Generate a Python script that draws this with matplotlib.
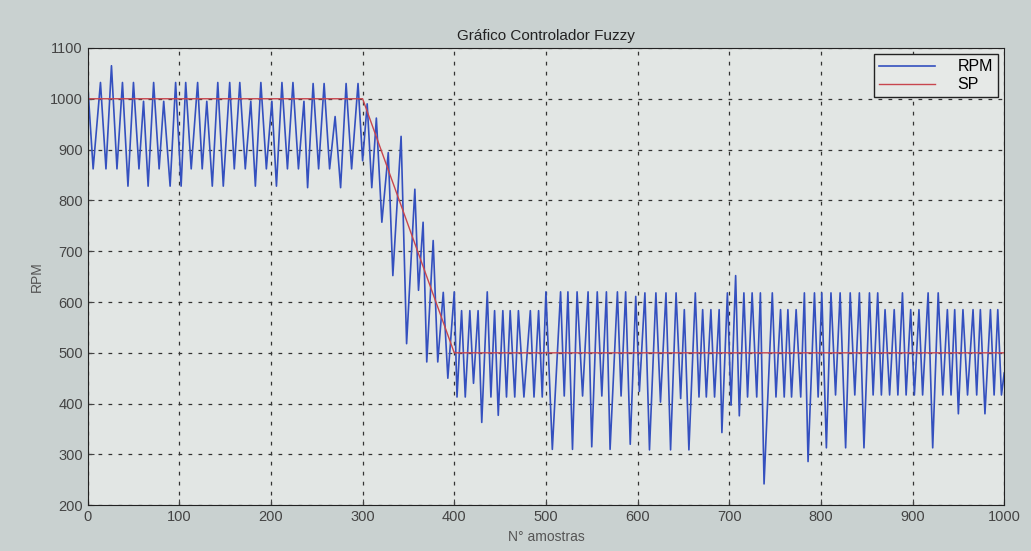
import matplotlib
matplotlib.use("Agg")
import matplotlib.pyplot as plt

# leitura aproximada dos picos e vales da curva RPM (amostra, valor)
amostras = [
    0, 6, 14, 20, 26, 32, 38, 44, 50, 56, 61, 66, 72, 78, 83, 90, 96,
    102, 107, 113, 120, 125, 130, 136, 142, 148, 155, 160, 166, 172, 178, 183, 189, 195,
    201, 206, 212, 218, 224, 230, 236, 240, 246, 252, 258, 264, 270, 276, 282, 288, 295,
    300, 305, 310, 315, 321, 328, 333, 342, 348, 357, 361, 366, 370, 377, 382, 388, 393,
    400, 403, 408, 412, 417, 421, 426, 430, 436, 440, 444, 448, 453, 457, 461, 466, 470,
    476, 483, 487, 492, 496,
    500, 507, 516, 520, 524, 529, 534, 540, 546, 550, 556, 561, 566, 570, 578, 582, 587, 592,
    598, 602, 608, 613, 620, 625, 631, 636, 642, 647, 651, 656, 663, 667, 671, 675, 680, 684,
    689, 692, 698, 702, 707, 711, 716, 720, 725, 730, 734, 738, 747, 751, 756, 760, 764, 768,
    773, 778, 782, 786, 793, 797, 801, 806, 811, 816, 821, 827, 832, 837, 842, 847, 853, 857,
    862, 866, 870, 875, 880, 884, 889, 893, 898, 902, 907, 911, 917, 922, 928, 933, 938, 942,
    946, 950, 955, 960, 966, 970, 974, 979, 985, 989, 993, 997, 1000,
]
rpm = [
    1030, 862, 1032, 862, 1065, 862, 1032, 828, 1032, 862, 995, 828, 1032, 862, 995, 828, 1032,
    828, 1032, 862, 1032, 862, 995, 828, 1032, 828, 1032, 862, 1032, 862, 995, 828, 1032, 862,
    995, 828, 1032, 862, 1032, 862, 995, 825, 1030, 862, 1030, 862, 965, 825, 1030, 862, 1030,
    878, 990, 825, 962, 757, 894, 652, 926, 518, 822, 623, 757, 482, 721, 482, 619, 450,
    620, 413, 583, 413, 583, 440, 583, 363, 620, 413, 583, 377, 583, 413, 583, 413, 583,
    413, 583, 413, 583, 413,
    620, 310, 620, 415, 620, 310, 620, 415, 620, 315, 620, 415, 620, 310, 620, 415, 620, 320,
    611, 424, 618, 309, 618, 403, 618, 309, 618, 410, 585, 309, 618, 413, 585, 413, 585, 413,
    585, 343, 618, 397, 652, 376, 618, 413, 618, 413, 618, 242, 618, 413, 585, 413, 585, 413,
    585, 413, 618, 286, 618, 413, 618, 313, 618, 417, 618, 313, 618, 417, 618, 313, 618, 417,
    618, 417, 585, 417, 585, 417, 618, 417, 585, 417, 585, 417, 618, 313, 618, 417, 585, 417,
    585, 380, 585, 417, 585, 417, 585, 380, 585, 417, 585, 417, 460,
]

# set point
amostras_sp = [0, 300, 400, 1000]
valores_sp = [1000, 1000, 500, 500]

plt.rcParams['font.family'] = ['Liberation Sans', 'DejaVu Sans']

fig = plt.figure(figsize=(10.31, 5.51), dpi=100, facecolor="#c9d1d0")
ax = fig.add_axes([0.085, 0.083, 0.889, 0.830])
ax.set_facecolor("#e2e6e4")

ax.plot(amostras, rpm, color="#3450bf", linewidth=1.2, label="RPM")
ax.plot(amostras_sp, valores_sp, color="#c8464e", linewidth=1.0, label="SP")

ax.set_xlim(0, 1000)
ax.set_ylim(200, 1100)
ax.set_xticks(range(0, 1001, 100))
ax.set_yticks(range(200, 1101, 100))
ax.tick_params(direction="in", labelsize=10.5, colors="#444444", length=4)
ax.grid(True, color="#333333", linestyle=(0, (3, 5)), linewidth=0.9)
for sp in ax.spines.values():
    sp.set_color("#222222")

ax.set_title("Gráfico Controlador Fuzzy", fontsize=11, color="#222222")
ax.set_xlabel("N° amostras", fontsize=10, color="#555555")
ax.set_ylabel("RPM", fontsize=10, color="#555555")

leg = ax.legend(loc="upper right", fontsize=11.5, fancybox=False, framealpha=1,
                edgecolor="#222222", facecolor="#e6e9e7", borderaxespad=0.4,
                handlelength=3.5, handletextpad=1.4, borderpad=0.3, labelspacing=0.2)

fig.savefig("out.png", dpi=100, facecolor=fig.get_facecolor())
